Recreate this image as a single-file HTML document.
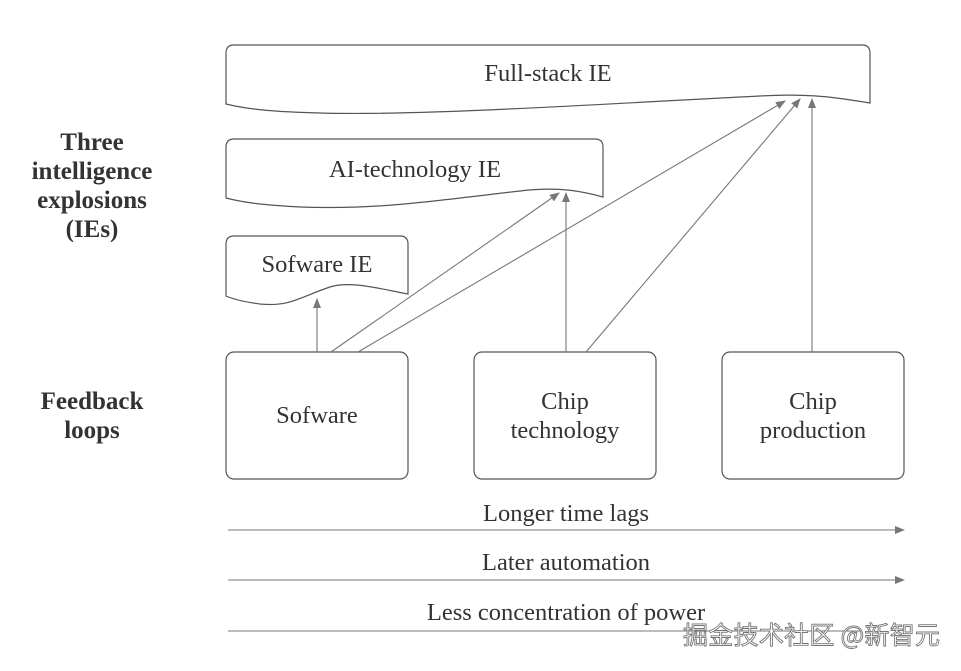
<!DOCTYPE html>
<html><head><meta charset="utf-8"><style>
html,body{margin:0;padding:0;background:#fff;width:961px;height:671px;overflow:hidden}
svg text{font-family:"Liberation Serif","Noto Serif CJK SC",serif;fill:#333}
</style></head><body>
<svg width="961" height="671" viewBox="0 0 961 671" xmlns="http://www.w3.org/2000/svg">
<defs><marker id="a" markerWidth="10" markerHeight="8" refX="9" refY="4" orient="auto" markerUnits="userSpaceOnUse"><path d="M0,0 L10,4 L0,8 z" fill="#777"/></marker></defs>
<g fill="none" stroke="#555" stroke-width="1.2">
<path d="M226,104 L226,53 Q226,45 234,45 L862,45 Q870,45 870,53 L870,103 C840,98 810,93 760,96 C600,104 420,116 320,113 C280,112 250,110 226,104 Z" fill="#fff"/>
<path d="M226,198 L226,147 Q226,139 234,139 L595,139 Q603,139 603,147 L603,197 C585,192 560,186 520,191 C440,200 380,210 300,207 C265,205 245,203 226,198 Z" fill="#fff"/>
<path d="M226,296 L226,244 Q226,236 234,236 L400,236 Q408,236 408,244 L408,294 C385,290 350,280 330,287 C300,297 290,307 260,304 C245,302 235,300 226,296 Z" fill="#fff"/>
<rect x="226" y="352" width="182" height="127" rx="8"/>
<rect x="474" y="352" width="182" height="127" rx="8"/>
<rect x="722" y="352" width="182" height="127" rx="8"/>
</g>
<g stroke="#777" stroke-width="1.1" marker-end="url(#a)">
<line x1="317" y1="352" x2="317" y2="299"/>
<line x1="331" y1="352" x2="559" y2="193"/>
<line x1="358" y1="352" x2="785" y2="101"/>
<line x1="566" y1="352" x2="566" y2="193"/>
<line x1="586" y1="352" x2="800" y2="99"/>
<line x1="812" y1="352" x2="812" y2="99"/>
<line x1="228" y1="530" x2="904" y2="530"/>
<line x1="228" y1="580" x2="904" y2="580"/>
</g>
<line x1="228" y1="631" x2="860" y2="631" stroke="#777" stroke-width="1.1"/>
<g font-size="24.5" text-anchor="middle">
<text x="548" y="81">Full-stack IE</text>
<text x="415" y="177">AI-technology IE</text>
<text x="317" y="272">Sofware IE</text>
<text x="317" y="423">Sofware</text>
<text x="565" y="409">Chip</text>
<text x="565" y="438">technology</text>
<text x="813" y="409">Chip</text>
<text x="813" y="438">production</text>
<text x="566" y="521">Longer time lags</text>
<text x="566" y="570">Later automation</text>
<text x="566" y="620">Less concentration of power</text>
</g>
<g font-size="25" font-weight="bold" text-anchor="middle">
<text x="92" y="150">Three</text>
<text x="92" y="179">intelligence</text>
<text x="92" y="208">explosions</text>
<text x="92" y="237">(IEs)</text>
<text x="92" y="409">Feedback</text>
<text x="92" y="438">loops</text>
</g>
<text x="683" y="644" font-size="25" textLength="257" style="font-family:'Noto Sans CJK SC',sans-serif;fill:#fff;stroke:#777;stroke-width:0.9">掘金技术社区 @新智元</text>
</svg>
</body></html>
